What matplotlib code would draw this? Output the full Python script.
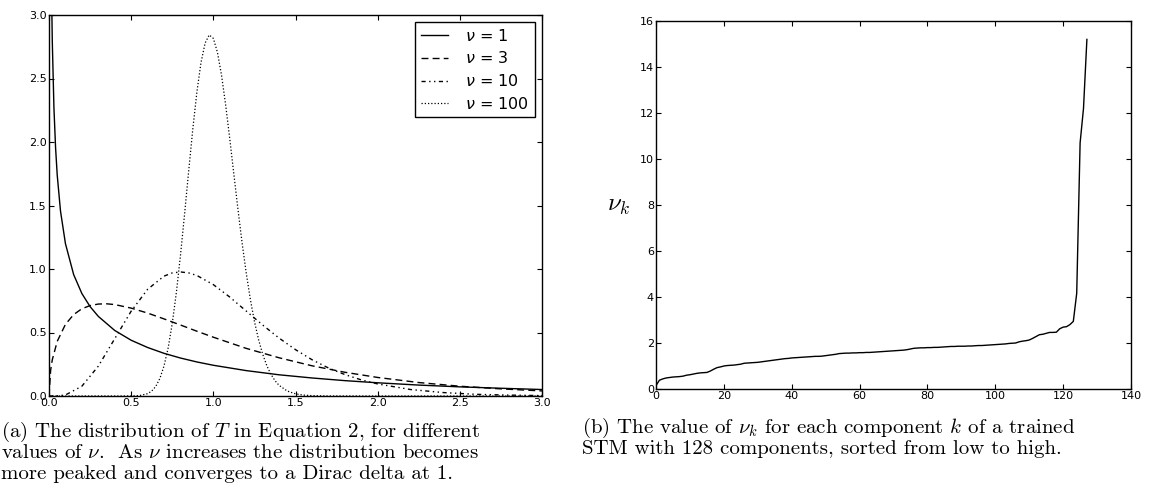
import matplotlib
matplotlib.use("Agg")
import matplotlib.pyplot as plt
from matplotlib.font_manager import FontProperties

# ---------------- data: left panel (density of T for several nu) ----------------
x_nu1 = [0.015, 0.02, 0.03, 0.04, 0.05, 0.07, 0.1, 0.15, 0.2, 0.25, 0.3, 0.4, 0.5,
         0.6, 0.7, 0.8, 0.9, 1.0, 1.2, 1.4, 1.6, 1.8, 2.0, 2.25, 2.5, 2.75, 3.0]
y_nu1 = [3.23, 2.793, 2.269, 1.955, 1.740, 1.456, 1.200, 0.956, 0.807, 0.704, 0.627,
         0.516, 0.439, 0.382, 0.336, 0.299, 0.268, 0.242, 0.200, 0.167, 0.142, 0.121,
         0.104, 0.086, 0.072, 0.061, 0.051]

x_nu3 = [0.0, 0.01, 0.02, 0.05, 0.1, 0.15, 0.2, 0.25, 0.3, 0.35, 0.4, 0.5, 0.6, 0.7,
         0.8, 0.9, 1.0, 1.2, 1.4, 1.6, 1.8, 2.0, 2.25, 2.5, 2.75, 3.0]
y_nu3 = [0.0, 0.204, 0.285, 0.430, 0.564, 0.641, 0.687, 0.712, 0.724, 0.726, 0.720,
         0.692, 0.653, 0.607, 0.559, 0.510, 0.463, 0.375, 0.301, 0.238, 0.187, 0.146,
         0.106, 0.077, 0.056, 0.040]

x_nu10 = [0.0, 0.05, 0.1, 0.2, 0.3, 0.4, 0.5, 0.6, 0.7, 0.75, 0.8, 0.85, 0.9, 1.0,
          1.1, 1.2, 1.3, 1.4, 1.5, 1.6, 1.7, 1.8, 1.9, 2.0, 2.2, 2.4, 2.6, 2.8, 3.0]
y_nu10 = [0.0, 0.001, 0.008, 0.077, 0.235, 0.451, 0.668, 0.840, 0.944, 0.969, 0.977,
          0.969, 0.949, 0.877, 0.779, 0.669, 0.559, 0.456, 0.365, 0.286, 0.221, 0.169,
          0.127, 0.095, 0.051, 0.027, 0.013, 0.007, 0.003]

x_nu100 = [0.0, 0.4, 0.5, 0.55, 0.6, 0.625, 0.65, 0.675, 0.7, 0.725, 0.75, 0.775, 0.8,
           0.825, 0.85, 0.875, 0.9, 0.925, 0.95, 0.975, 1.0, 1.025, 1.05, 1.075, 1.1,
           1.125, 1.15, 1.175, 1.2, 1.225, 1.25, 1.275, 1.3, 1.325, 1.35, 1.375, 1.4,
           1.45, 1.5, 1.55, 1.6, 1.7, 2.0, 3.0]
y_nu100 = [0.0, 0.0, 0.0004, 0.0032, 0.018, 0.039, 0.076, 0.139, 0.237, 0.378, 0.571,
           0.815, 1.107, 1.432, 1.772, 2.101, 2.394, 2.626, 2.779, 2.843, 2.816, 2.706,
           2.525, 2.291, 2.025, 1.745, 1.468, 1.206, 0.970, 0.763, 0.588, 0.445, 0.330,
           0.240, 0.172, 0.121, 0.084, 0.039, 0.017, 0.007, 0.003, 0.0003, 0.0, 0.0]

labels_left = [r"$\nu$ = 1", r"$\nu$ = 3", r"$\nu$ = 10", r"$\nu$ = 100"]
xticks_left = [0.0, 0.5, 1.0, 1.5, 2.0, 2.5, 3.0]
yticks_left = [0.0, 0.5, 1.0, 1.5, 2.0, 2.5, 3.0]

# ---------------- data: right panel (sorted nu_k of 128 components) ----------------
k_index = list(range(128))
nu_k = [0.15, 0.38, 0.44, 0.48, 0.50, 0.52, 0.53, 0.54, 0.56, 0.60,
        0.62, 0.65, 0.68, 0.70, 0.71, 0.72, 0.78, 0.86, 0.93, 0.96,
        1.00, 1.02, 1.03, 1.04, 1.06, 1.08, 1.12, 1.13, 1.14, 1.15,
        1.16, 1.18, 1.20, 1.22, 1.24, 1.26, 1.28, 1.30, 1.32, 1.33,
        1.35, 1.36, 1.37, 1.38, 1.39, 1.40, 1.41, 1.42, 1.42, 1.43,
        1.45, 1.47, 1.49, 1.51, 1.54, 1.55, 1.56, 1.56, 1.57, 1.57,
        1.58, 1.58, 1.59, 1.59, 1.60, 1.61, 1.62, 1.63, 1.64, 1.65,
        1.66, 1.67, 1.68, 1.69, 1.71, 1.74, 1.77, 1.78, 1.79, 1.79,
        1.80, 1.80, 1.81, 1.81, 1.82, 1.83, 1.84, 1.85, 1.85, 1.86,
        1.86, 1.86, 1.87, 1.87, 1.88, 1.89, 1.89, 1.90, 1.91, 1.92,
        1.93, 1.94, 1.95, 1.96, 1.98, 1.99, 2.00, 2.05, 2.08, 2.10,
        2.13, 2.20, 2.28, 2.36, 2.38, 2.42, 2.46, 2.46, 2.47, 2.62,
        2.69, 2.71, 2.80, 2.94, 4.16, 10.7, 12.2, 15.2]
xticks_right = [0, 20, 40, 60, 80, 100, 120, 140]
yticks_right = [0, 2, 4, 6, 8, 10, 12, 14, 16]

caption_a = ["(a) The distribution of $T$ in Equation 2, for different",
             r"values of $\nu$.  As $\nu$ increases the distribution becomes",
             "more peaked and converges to a Dirac delta at 1."]
caption_b = [r"(b) The value of $\nu_k$ for each component $k$ of a trained",
             "STM with 128 components, sorted from low to high."]

# ---------------- style ----------------
plt.rcParams["font.family"] = ["DejaVu Sans"]
plt.rcParams["mathtext.fontset"] = "cm"
plt.rcParams["xtick.direction"] = "in"
plt.rcParams["ytick.direction"] = "in"
plt.rcParams["xtick.top"] = True
plt.rcParams["ytick.right"] = True
plt.rcParams["xtick.major.size"] = 3.5
plt.rcParams["ytick.major.size"] = 3.5
plt.rcParams["xtick.major.width"] = 0.8
plt.rcParams["ytick.major.width"] = 0.8
plt.rcParams["xtick.major.pad"] = 1.5
plt.rcParams["ytick.major.pad"] = 1.5
plt.rcParams["xtick.labelsize"] = 8
plt.rcParams["ytick.labelsize"] = 8
plt.rcParams["axes.linewidth"] = 1.0

fig = plt.figure(figsize=(11.6, 5.0), dpi=100)

# ---------------- left panel ----------------
axL = fig.add_axes([49 / 1160, 1 - 396 / 500, 493 / 1160, 381 / 500])
axL.plot(x_nu1, y_nu1, color="black", lw=1.0, ls="-", label=labels_left[0])
axL.plot(x_nu3, y_nu3, color="black", lw=1.0, ls=(0, (5, 3)), label=labels_left[1])
axL.plot(x_nu10, y_nu10, color="black", lw=1.0, ls=(0, (3, 2.5, 1, 2.5, 1, 2.5)),
         label=labels_left[2])
axL.plot(x_nu100, y_nu100, color="black", lw=0.9, ls=(0, (1, 1.6)), label=labels_left[3])
axL.set_xlim(0, 3.0)
axL.set_ylim(0, 3.0)
axL.set_xticks(xticks_left)
axL.set_yticks(yticks_left)
axL.set_xticklabels([f"{v:.1f}" for v in xticks_left])
axL.set_yticklabels([f"{v:.1f}" for v in yticks_left])
leg = axL.legend(loc="upper right", fancybox=False, framealpha=1, edgecolor="black",
                 prop=FontProperties(family="DejaVu Sans", size=11.5,
                                     math_fontfamily="dejavusans"),
                 handlelength=1.7, handletextpad=1.1, borderaxespad=0.45,
                 labelspacing=0.42, borderpad=0.35)
leg.get_frame().set_linewidth(1.0)

# ---------------- right panel ----------------
axR = fig.add_axes([656 / 1160, 1 - 389 / 500, 475 / 1160, 368 / 500])
axR.plot(k_index, nu_k, color="black", lw=1.0)
axR.set_xlim(0, 140)
axR.set_ylim(0, 16)
axR.set_xticks(xticks_right)
axR.set_yticks(yticks_right)
axR.set_ylabel(r"$\nu_k$", fontsize=18, rotation=0, labelpad=15, va="center")

# ---------------- captions ----------------
cap_kw = dict(fontfamily="cmr10", fontsize=15, ha="left", va="center")
for i, line in enumerate(caption_a):
    fig.text(1 / 1160, 1 - (432 + 21 * i) / 500, line, **cap_kw)
for i, line in enumerate(caption_b):
    fig.text(582 / 1160, 1 - (428 + 21 * i) / 500, line, **cap_kw)

fig.savefig("out.png", dpi=100)
